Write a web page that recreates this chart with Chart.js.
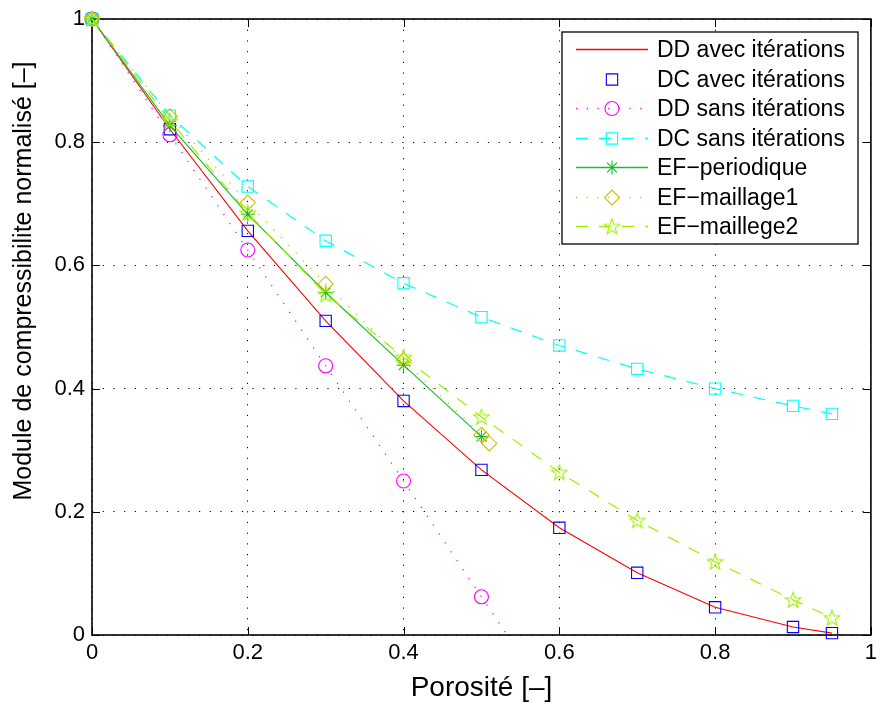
<!DOCTYPE html>
<html>
<head>
<meta charset="utf-8">
<script src="https://cdn.jsdelivr.net/npm/chart.js@4/dist/chart.umd.min.js"></script>
<style>
  html, body { margin: 0; padding: 0; background: #fff; }
  #wrap { width: 880px; height: 706px; position: relative; }
</style>
</head>
<body>
<div id="wrap"><canvas id="c" width="880" height="706"></canvas></div>
<script>
// ---- data ----
const seriesNames = ['DD avec itérations', 'DC avec itérations', 'DD sans itérations',
  'DC sans itérations', 'EF\u2212periodique', 'EF\u2212maillage1', 'EF\u2212maillege2'];
const xAvec   = [0, 0.1, 0.2, 0.3, 0.4, 0.5, 0.6, 0.7, 0.8, 0.9, 0.95];
const ddAvec  = [1, 0.821, 0.656, 0.510, 0.380, 0.268, 0.174, 0.101, 0.045, 0.013, 0.003];
const dcAvec  = [1, 0.821, 0.656, 0.510, 0.380, 0.268, 0.174, 0.101, 0.045, 0.013, 0.003];
const xDDsans = [0, 0.1, 0.2, 0.3, 0.4, 0.5, 0.6];
const ddSans  = [1, 0.812, 0.625, 0.437, 0.250, 0.062, -0.125];
const xDCsans = [0, 0.1, 0.2, 0.3, 0.4, 0.5, 0.6, 0.7, 0.8, 0.9, 0.95];
const dcSans  = [1, 0.843, 0.728, 0.640, 0.571, 0.516, 0.470, 0.432, 0.400, 0.372, 0.359];
const xEFper  = [0, 0.1, 0.2, 0.3, 0.4, 0.5];
const efPer   = [1, 0.827, 0.683, 0.556, 0.438, 0.322];
const xEF1    = [0, 0.1, 0.2, 0.3, 0.4, 0.5, 0.51];
const ef1     = [1, 0.842, 0.702, 0.570, 0.446, 0.325, 0.311];
const xEF2    = [0, 0.1, 0.2, 0.3, 0.4, 0.5, 0.6, 0.7, 0.8, 0.9, 0.95];
const ef2     = [1, 0.835, 0.685, 0.553, 0.451, 0.354, 0.264, 0.186, 0.119, 0.057, 0.028];
const xTicks  = [0, 0.2, 0.4, 0.6, 0.8, 1];
const yTicks  = [0, 0.2, 0.4, 0.6, 0.8, 1];
const xTitle  = 'Porosité [\u2013]';
const yTitle  = 'Module de compressibilite normalisé [\u2013]';

const FONT = "'Liberation Sans', Arial, Helvetica, sans-serif";
const pts = (xs, ys) => xs.map((x, i) => ({ x: x, y: ys[i] }));

// pentagram marker
function makePentagram(color) {
  const c = document.createElement('canvas');
  c.width = 20; c.height = 20;
  const g = c.getContext('2d');
  const R = 8.2, r = 3.4, cx = 10, cy = 10.6;
  g.beginPath();
  for (let i = 0; i < 10; i++) {
    const a = -Math.PI / 2 + i * Math.PI / 5;
    const rr = i % 2 === 0 ? R : r;
    const px = cx + rr * Math.cos(a), py = cy + rr * Math.sin(a);
    if (i === 0) g.moveTo(px, py); else g.lineTo(px, py);
  }
  g.closePath();
  g.strokeStyle = color; g.lineWidth = 1.1; g.stroke();
  return c;
}

const C_RED = '#ff0000', C_BLUE = '#0000ff', C_MAG = '#ff00ff', C_CYAN = '#00ffff',
      C_GREEN = 'rgb(20,190,40)', C_OLIVE = 'rgb(210,190,0)', C_LIME = 'rgb(160,240,0)';
const DOT = [1.2, 9.5], DASH = [12, 11];
const pent = makePentagram(C_LIME);
const CLIP = { left: 12, top: 12, right: 12, bottom: 12 };

// legend sample styles (line colour, dash, line shown)
const legendLine = [
  { color: C_RED, dash: [], show: true, width: 1.6 },
  { color: C_BLUE, dash: [], show: false, width: 1.1 },
  { color: C_MAG, dash: DOT, show: true, width: 1.4 },
  { color: C_CYAN, dash: DASH, show: true, width: 1.4 },
  { color: C_GREEN, dash: [], show: true, width: 1.6 },
  { color: C_OLIVE, dash: DOT, show: true, width: 1.4 },
  { color: C_LIME, dash: DASH, show: true, width: 1.4 }
];

const datasets = [
  { label: seriesNames[0], data: pts(xAvec, ddAvec), borderColor: C_RED, borderWidth: 1.1,
    pointRadius: 0, showLine: true, borderDash: [] },
  { label: seriesNames[1], data: pts(xAvec, dcAvec), borderColor: C_BLUE, borderWidth: 1.1,
    showLine: false, pointStyle: 'rect', pointRadius: 8, pointBorderWidth: 1.1, pointBorderColor: C_BLUE },
  { label: seriesNames[2], data: pts(xDDsans, ddSans), borderColor: C_MAG, borderWidth: 1.3,
    showLine: true, borderDash: DOT, pointStyle: 'circle', pointRadius: 7, pointBorderWidth: 1.1,
    pointBorderColor: C_MAG, clip: { left: 12, top: 12, right: 12, bottom: 0 } },
  { label: seriesNames[3], data: pts(xDCsans, dcSans), borderColor: C_CYAN, borderWidth: 1.2,
    showLine: true, borderDash: DASH, pointStyle: 'rect', pointRadius: 8, pointBorderWidth: 1.1,
    pointBorderColor: C_CYAN },
  { label: seriesNames[4], data: pts(xEFper, efPer), borderColor: C_GREEN, borderWidth: 1.1,
    showLine: true, borderDash: [], pointStyle: 'star', pointRadius: 7, pointBorderWidth: 1.1,
    pointBorderColor: C_GREEN },
  { label: seriesNames[5], data: pts(xEF1, ef1), borderColor: C_OLIVE, borderWidth: 1.3,
    showLine: true, borderDash: DOT, pointStyle: 'rectRot', pointRadius: 7.5, pointBorderWidth: 1.1,
    pointBorderColor: C_OLIVE },
  { label: seriesNames[6], data: pts(xEF2, ef2), borderColor: C_LIME, borderWidth: 1.2,
    showLine: true, borderDash: DASH, pointStyle: pent, pointRadius: 8, pointBorderWidth: 1,
    pointBorderColor: C_LIME }
];
datasets.forEach((d, i) => {
  d.backgroundColor = 'rgba(0,0,0,0)';
  d.pointBackgroundColor = 'rgba(0,0,0,0)';
  d.fill = false;
  d.tension = 0;
  d.order = 10 - i;
  d.pointHoverRadius = d.pointRadius;
  if (!d.clip) d.clip = CLIP;
});

// box + inward ticks + y title
const boxPlugin = {
  id: 'box',
  beforeDatasetsDraw(chart) {
    const { ctx, chartArea: a, scales } = chart;
    ctx.save();
    ctx.strokeStyle = '#000';
    ctx.lineWidth = 1;
    const L = 8;
    ctx.beginPath();
    xTicks.forEach(v => {
      const px = Math.round(scales.x.getPixelForValue(v)) + 0.5;
      ctx.moveTo(px, a.bottom); ctx.lineTo(px, a.bottom - L);
      ctx.moveTo(px, a.top); ctx.lineTo(px, a.top + L);
    });
    yTicks.forEach(v => {
      const py = Math.round(scales.y.getPixelForValue(v)) + 0.5;
      ctx.moveTo(a.left, py); ctx.lineTo(a.left + L, py);
      ctx.moveTo(a.right, py); ctx.lineTo(a.right - L, py);
    });
    ctx.stroke();
    ctx.lineWidth = 1.6;
    ctx.strokeRect(a.left, a.top, a.right - a.left, a.bottom - a.top);
    // y axis title
    ctx.translate(24, 281);
    ctx.rotate(-Math.PI / 2);
    ctx.fillStyle = '#000';
    ctx.font = '25px ' + FONT;
    ctx.textAlign = 'center';
    ctx.textBaseline = 'middle';
    ctx.fillText(yTitle, 0, 0);
    ctx.restore();
  }
};

// MATLAB-style legend inside the axes
const legendPlugin = {
  id: 'mlegend',
  afterDatasetsDraw(chart) {
    const { ctx } = chart;
    const bx = 562, by = 32, bw = 296, bh = 212;
    ctx.save();
    ctx.fillStyle = '#fff';
    ctx.fillRect(bx, by, bw, bh);
    ctx.strokeStyle = '#000';
    ctx.lineWidth = 1.3;
    ctx.strokeRect(bx, by, bw, bh);
    chart.data.datasets.forEach((d, i) => {
      const y = Math.round(49 + i * 29.5) + 0.5;
      const st = legendLine[i];
      if (st.show) {
        ctx.save();
        ctx.globalAlpha = 1;
        ctx.strokeStyle = st.color;
        ctx.lineWidth = st.width;
        ctx.setLineDash(st.dash);
        ctx.beginPath();
        ctx.moveTo(576, y); ctx.lineTo(648, y);
        ctx.stroke();
        ctx.restore();
      }
      if (d.pointRadius > 0) {
        ctx.save();
        ctx.strokeStyle = d.pointBorderColor;
        ctx.fillStyle = 'rgba(0,0,0,0)';
        ctx.lineWidth = d.pointBorderWidth;
        ctx.setLineDash([]);
        Chart.helpers.drawPoint(ctx, { pointStyle: d.pointStyle, radius: d.pointRadius,
          rotation: 0, borderWidth: d.pointBorderWidth }, 612, y);
        ctx.restore();
      }
      ctx.fillStyle = '#000';
      ctx.font = '23px ' + FONT;
      ctx.textBaseline = 'middle';
      ctx.textAlign = 'left';
      ctx.fillText(d.label, 657, y + 1);
    });
    ctx.restore();
  }
};

const axisCommon = (ticks, title, isX) => ({
  type: 'linear',
  min: 0, max: 1,
  afterBuildTicks: s => { s.ticks = ticks.map(v => ({ value: v })); },
  ticks: {
    color: '#000', font: { family: FONT, size: 22 }, padding: isX ? 5 : 7,
    maxRotation: 0, autoSkip: false,
    callback: v => String(v)
  },
  grid: { color: '#000', lineWidth: 1, drawTicks: false },
  border: { display: false, dash: DOT },
  title: { display: isX, text: title, color: '#000', font: { family: FONT, size: 28 },
    padding: { top: 0, bottom: 1 } },
  afterFit: s => {
    if (isX) { s.height = 71; s.paddingRight = 0; s.paddingLeft = 0; }
    else { s.width = 92; s.paddingTop = 0; s.paddingBottom = 0; }
  }
});

new Chart(document.getElementById('c'), {
  type: 'scatter',
  data: { datasets: datasets },
  options: {
    responsive: false,
    animation: false,
    devicePixelRatio: 1,
    layout: { padding: { top: 19, right: 5, left: 0, bottom: 0 } },
    plugins: { legend: { display: false }, tooltip: { enabled: false } },
    scales: {
      x: axisCommon(xTicks, xTitle, true),
      y: axisCommon(yTicks, yTitle, false)
    }
  },
  plugins: [boxPlugin, legendPlugin]
});
</script>
</body>
</html>
